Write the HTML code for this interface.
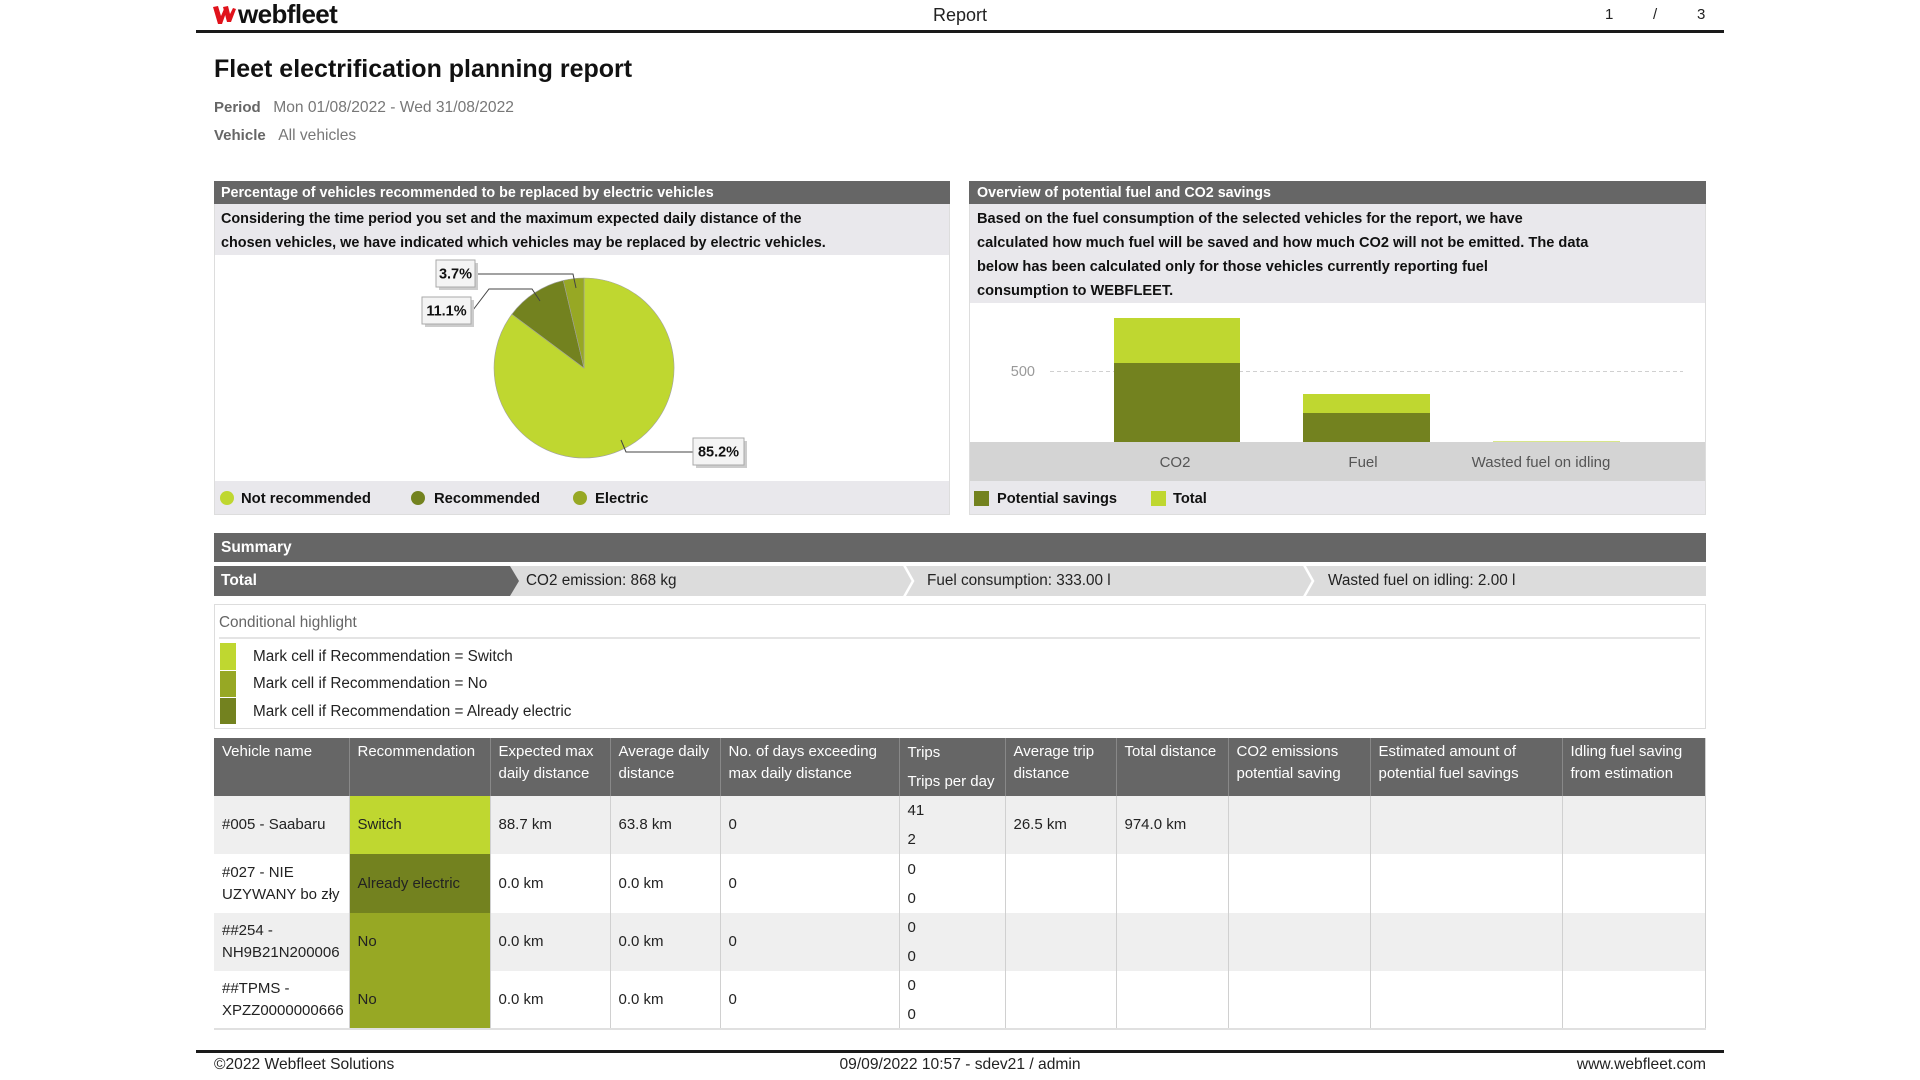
<!DOCTYPE html>
<html><head><meta charset="utf-8">
<style>
*{margin:0;padding:0;box-sizing:border-box}
html,body{width:1920px;height:1080px;background:#fff;overflow:hidden}
body{position:relative;font-family:"Liberation Sans",Arial,sans-serif;color:#222}
.a{position:absolute;white-space:nowrap}
.b{font-weight:bold}
table{position:absolute;left:214px;top:738px;width:1492px;border-collapse:collapse;table-layout:fixed;font-size:15px}
th{background:#666;color:#fff;font-weight:normal;text-align:left;vertical-align:top;padding:3px 0 0 8px;line-height:22px;border-left:1px solid #888;height:58px}
th:first-child{border-left:none}
td{padding:0 0 0 8px;line-height:22px;border-left:1px solid #d0d0d0;vertical-align:middle;color:#222}
tr.g td{background:#efefef}
tr.w td{background:#fff}
td.r1{background:#bfd730!important}
td.r2{background:#73821f!important}
td.r3{background:#97a824!important}
td.tr{line-height:29px}
</style></head><body>

<!-- header -->
<svg class="a" style="left:212px;top:5px" width="24" height="20" viewBox="0 0 24 20">
<path d="M1 2 L6 1 L9 11 L12 4 L15 5 L10 19 L6 19 Z" fill="#e0121b"/>
<path d="M11 2 L16 1 L18 9 L21 3 L24 4 L19 17 L15 17 Z" fill="#e0121b"/>
</svg>
<div class="a b" style="left:238px;top:0px;font-size:26px;line-height:28px;letter-spacing:-0.6px;color:#111">webfleet</div>
<div class="a" style="left:900px;width:120px;text-align:center;top:3px;font-size:18px;line-height:24px;color:#222">Report</div>
<div class="a" style="left:1605px;top:4px;font-size:15px;line-height:22px">1</div>
<div class="a" style="left:1653px;top:4px;font-size:15px;line-height:22px">/</div>
<div class="a" style="left:1697px;top:4px;font-size:15px;line-height:22px">3</div>
<div class="a" style="left:196px;top:30px;width:1528px;height:3px;background:#1a1a1a"></div>

<!-- title -->
<div class="a b" style="left:214px;top:55px;font-size:25px;line-height:28px;color:#111">Fleet electrification planning report</div>
<div class="a" style="left:214px;top:97px;font-size:15px;line-height:22px;color:#777"><span class="b" style="color:#666">Period</span>&nbsp;&nbsp; <span style="font-size:15.6px">Mon 01/08/2022 - Wed 31/08/2022</span></div>
<div class="a" style="left:214px;top:125px;font-size:15px;line-height:22px;color:#777"><span class="b" style="color:#666">Vehicle</span>&nbsp;&nbsp; <span style="font-size:15.6px">All vehicles</span></div>

<!-- left panel -->
<div class="a" style="left:214px;top:181px;width:736px;height:334px;border:1px solid #ddd;background:#fff"></div>
<div class="a" style="left:214px;top:181px;width:736px;height:23px;background:#666"></div>
<div class="a b" style="left:221px;top:182px;font-size:14.3px;line-height:23px;color:#fff">Percentage of vehicles recommended to be replaced by electric vehicles</div>
<div class="a" style="left:215px;top:204px;width:734px;height:51px;background:#e9e8ec"></div>
<div class="a b" style="left:221px;top:207px;font-size:14.4px;line-height:24px;color:#111">Considering the time period you set and the maximum expected daily distance of the<br>chosen vehicles, we have indicated which vehicles may be replaced by electric vehicles.</div>
<div class="a" style="left:215px;top:481px;width:734px;height:33px;background:#e9e8ec"></div>

<svg class="a" style="left:0;top:0" width="960" height="520">
<path d="M584,368 L584,278 A90,90 0 1,1 511.9,314.2 Z" fill="#bfd730" stroke="#a0a0a0" stroke-width="0.6"/>
<path d="M584,368 L511.9,314.2 A90,90 0 0,1 563.3,280.4 Z" fill="#73821f" stroke="#a0a0a0" stroke-width="0.6"/>
<path d="M584,368 L563.3,280.4 A90,90 0 0,1 584,278 Z" fill="#97a824" stroke="#a0a0a0" stroke-width="0.6"/>
<polyline points="476,274 573,274 576,288" fill="none" stroke="#444" stroke-width="1"/>
<polyline points="473,310 489,289 532,289 540,301" fill="none" stroke="#444" stroke-width="1"/>
<polyline points="621,440 626,452 693,452" fill="none" stroke="#444" stroke-width="1"/>
<rect x="439" y="263" width="39" height="27" fill="#ccc"/>
<rect x="436" y="260" width="39" height="27" fill="#f4f4f4" stroke="#aaa"/>
<rect x="425" y="300" width="49" height="27" fill="#ccc"/>
<rect x="422" y="297" width="49" height="27" fill="#f4f4f4" stroke="#aaa"/>
<rect x="696" y="441" width="51" height="27" fill="#ccc"/>
<rect x="693" y="438" width="51" height="27" fill="#f4f4f4" stroke="#aaa"/>
<text x="455.5" y="278.5" font-family="Liberation Sans, Arial, sans-serif" font-size="14.5" font-weight="bold" fill="#111" text-anchor="middle">3.7%</text>
<text x="446.5" y="315.5" font-family="Liberation Sans, Arial, sans-serif" font-size="14.5" font-weight="bold" fill="#111" text-anchor="middle">11.1%</text>
<text x="718.5" y="456.5" font-family="Liberation Sans, Arial, sans-serif" font-size="14.5" font-weight="bold" fill="#111" text-anchor="middle">85.2%</text>
<circle cx="227" cy="498" r="7" fill="#bfd730"/>
<circle cx="418" cy="498" r="7" fill="#73821f"/>
<circle cx="580" cy="498" r="7" fill="#97a824"/>
</svg>
<div class="a b" style="left:241px;top:488px;font-size:14.8px;line-height:22px;color:#111">Not recommended</div>
<div class="a b" style="left:434px;top:488px;font-size:14.8px;line-height:22px;color:#111">Recommended</div>
<div class="a b" style="left:595px;top:488px;font-size:14.8px;line-height:22px;color:#111">Electric</div>

<!-- right panel -->
<div class="a" style="left:969px;top:181px;width:737px;height:334px;border:1px solid #ddd;background:#fff"></div>
<div class="a" style="left:969px;top:181px;width:737px;height:23px;background:#666"></div>
<div class="a b" style="left:977px;top:182px;font-size:14.3px;line-height:23px;color:#fff">Overview of potential fuel and CO2 savings</div>
<div class="a" style="left:970px;top:204px;width:735px;height:99px;background:#e9e8ec"></div>
<div class="a b" style="left:977px;top:207px;font-size:14.6px;line-height:24px;color:#111">Based on the fuel consumption of the selected vehicles for the report, we have<br>calculated how much fuel will be saved and how much CO2 will not be emitted. The data<br>below has been calculated only for those vehicles currently reporting fuel<br>consumption to WEBFLEET.</div>
<div class="a" style="left:970px;top:442px;width:735px;height:39px;background:#d4d4d4"></div>
<div class="a" style="left:970px;top:481px;width:735px;height:33px;background:#e9e8ec"></div>
<svg class="a" style="left:960px;top:300px" width="760" height="220">
<line x1="90" y1="71.5" x2="723" y2="71.5" stroke="#d0d0d0" stroke-dasharray="4,3"/>
<rect x="154" y="18" width="126" height="45" fill="#bfd730"/>
<rect x="154" y="63" width="126" height="79" fill="#73821f"/>
<rect x="343" y="94" width="127" height="19" fill="#bfd730"/>
<rect x="343" y="113" width="127" height="29" fill="#73821f"/>
<rect x="533" y="141" width="127" height="1" fill="#d8e68a"/>
<rect x="14" y="191" width="15" height="15" fill="#73821f"/>
<rect x="191" y="191" width="15" height="15" fill="#bfd730"/>
</svg>
<div class="a" style="left:985px;width:50px;text-align:right;top:362px;font-size:14.5px;line-height:20px;color:#999">500</div>
<div class="a" style="left:1115px;width:120px;text-align:center;top:452px;font-size:15px;line-height:22px;color:#555">CO2</div>
<div class="a" style="left:1303px;width:120px;text-align:center;top:452px;font-size:15px;line-height:22px;color:#555">Fuel</div>
<div class="a" style="left:1461px;width:160px;text-align:center;top:452px;font-size:15px;line-height:22px;color:#555">Wasted fuel on idling</div>
<div class="a b" style="left:997px;top:488px;font-size:14.6px;line-height:22px;color:#111">Potential savings</div>
<div class="a b" style="left:1173px;top:488px;font-size:14.6px;line-height:22px;color:#111">Total</div>

<!-- summary -->
<div class="a" style="left:214px;top:533px;width:1492px;height:29px;background:#666"></div>
<div class="a b" style="left:221px;top:533px;font-size:15.5px;line-height:29px;color:#fff">Summary</div>
<svg class="a" style="left:214px;top:566px" width="1492" height="30">
<rect x="0" y="0" width="1492" height="30" fill="#dcdcdc"/>
<polygon points="0,0 296,0 305,15 296,30 0,30" fill="#666"/>
<polyline points="690,-1 699,15 690,31" fill="none" stroke="#fff" stroke-width="2.5"/>
<polyline points="1090,-1 1099,15 1090,31" fill="none" stroke="#fff" stroke-width="2.5"/>
</svg>
<div class="a b" style="left:221px;top:566px;font-size:15.5px;line-height:30px;color:#fff">Total</div>
<div class="a" style="left:526px;top:566px;font-size:15.3px;line-height:30px;color:#222">CO2 emission: 868 kg</div>
<div class="a" style="left:927px;top:566px;font-size:15.3px;line-height:30px;color:#222">Fuel consumption: 333.00 l</div>
<div class="a" style="left:1328px;top:566px;font-size:15.3px;line-height:30px;color:#222">Wasted fuel on idling: 2.00 l</div>

<!-- conditional highlight -->
<div class="a" style="left:214px;top:604px;width:1492px;height:125px;border:1px solid #ddd"></div>
<div class="a" style="left:219px;top:612px;font-size:15.3px;line-height:22px;color:#666">Conditional highlight</div>
<div class="a" style="left:219px;top:637px;width:1481px;height:2px;background:#e4e4e4"></div>
<div class="a" style="left:220px;top:643px;width:16px;height:27px;background:#bfd730"></div>
<div class="a" style="left:220px;top:671px;width:16px;height:26px;background:#97a824"></div>
<div class="a" style="left:220px;top:698px;width:16px;height:26px;background:#73821f"></div>
<div class="a" style="left:253px;top:646px;font-size:15.3px;line-height:22px">Mark cell if Recommendation = Switch</div>
<div class="a" style="left:253px;top:673px;font-size:15.3px;line-height:22px">Mark cell if Recommendation = No</div>
<div class="a" style="left:253px;top:701px;font-size:15.3px;line-height:22px">Mark cell if Recommendation = Already electric</div>

<!-- table -->
<table>
<colgroup><col style="width:135px"><col style="width:141px"><col style="width:120px"><col style="width:110px"><col style="width:179px"><col style="width:106px"><col style="width:111px"><col style="width:112px"><col style="width:142px"><col style="width:192px"><col style="width:144px"></colgroup>
<tr><th>Vehicle name</th><th>Recommendation</th><th>Expected max<br>daily distance</th><th>Average daily<br>distance</th><th>No. of days exceeding<br>max daily distance</th><th style="line-height:29px;padding-top:0">Trips<br>Trips per day</th><th>Average trip<br>distance</th><th>Total distance</th><th>CO2 emissions<br>potential saving</th><th>Estimated amount of<br>potential fuel savings</th><th>Idling fuel saving<br>from estimation</th></tr>
<tr class="g" style="height:58px"><td style="border-left:none">#005 - Saabaru</td><td class="r1">Switch</td><td>88.7 km</td><td>63.8 km</td><td>0</td><td class="tr">41<br>2</td><td>26.5 km</td><td>974.0 km</td><td></td><td></td><td></td></tr>
<tr class="w" style="height:59px"><td style="border-left:none">#027 - NIE<br>UZYWANY bo zły</td><td class="r2">Already electric</td><td>0.0 km</td><td>0.0 km</td><td>0</td><td class="tr">0<br>0</td><td></td><td></td><td></td><td></td><td></td></tr>
<tr class="g" style="height:58px"><td style="border-left:none">##254 -<br>NH9B21N200006</td><td class="r3">No</td><td>0.0 km</td><td>0.0 km</td><td>0</td><td class="tr">0<br>0</td><td></td><td></td><td></td><td></td><td></td></tr>
<tr class="w" style="height:58px"><td style="border-left:none">##TPMS -<br>XPZZ0000000666</td><td class="r3">No</td><td>0.0 km</td><td>0.0 km</td><td>0</td><td class="tr">0<br>0</td><td></td><td></td><td></td><td></td><td></td></tr>
</table>
<div class="a" style="left:1705px;top:738px;width:1px;height:291px;background:#d0d0d0"></div>
<div class="a" style="left:214px;top:1028px;width:1492px;height:2px;background:#e0e0e0"></div>

<!-- footer -->
<div class="a" style="left:196px;top:1050px;width:1528px;height:3px;background:#1a1a1a"></div>
<div class="a" style="left:214px;top:1054px;font-size:15.6px;line-height:22px">©2022 Webfleet Solutions</div>
<div class="a" style="left:800px;width:320px;text-align:center;top:1054px;font-size:15.6px;line-height:22px">09/09/2022 10:57 - sdev21 / admin</div>
<div class="a" style="left:1506px;width:200px;text-align:right;top:1054px;font-size:15.6px;line-height:22px">www.webfleet.com</div>

</body></html>
